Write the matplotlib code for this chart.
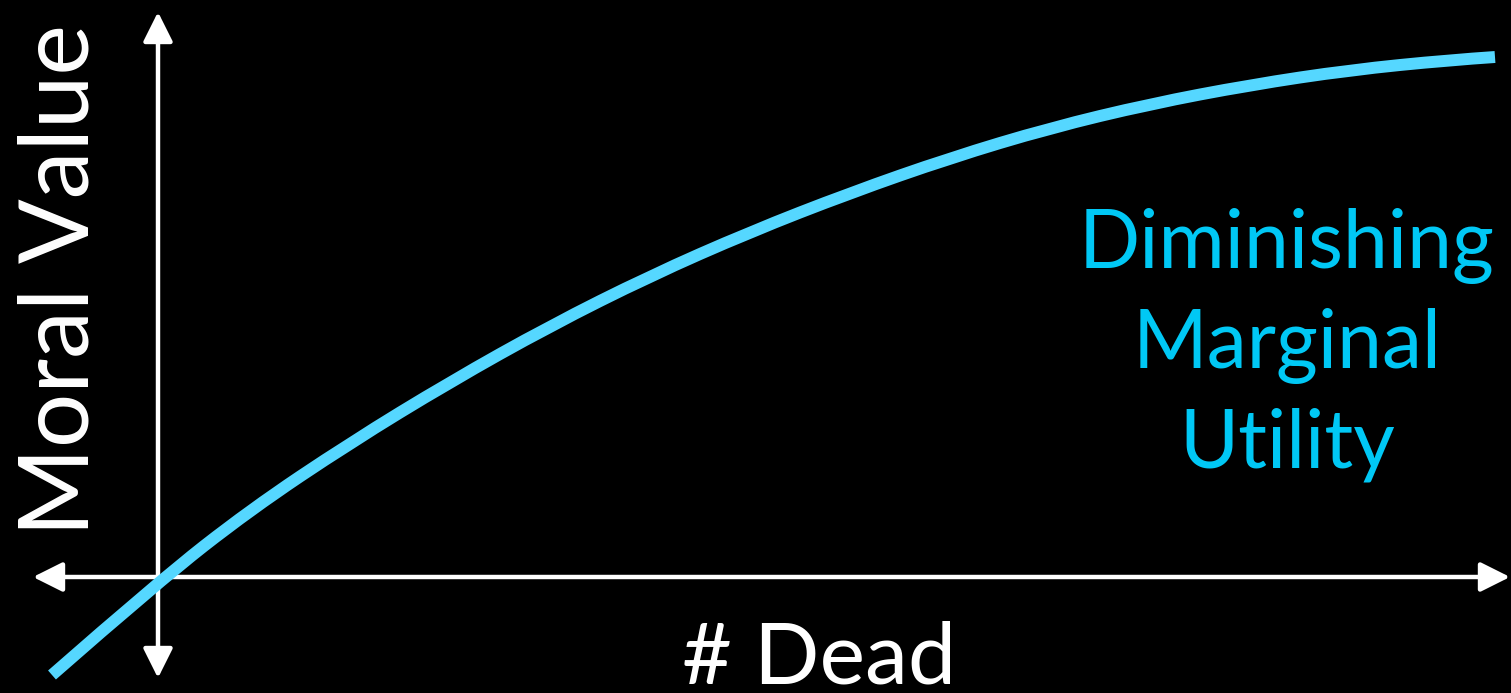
import numpy as np
import matplotlib.pyplot as plt
from matplotlib.path import Path
from matplotlib.patches import PathPatch

# curve (origin at axis crossing, 1 unit = 100 px)
dead = [-1.06, 0.0, 0.92, 1.92, 2.92, 3.92, 4.92, 5.92, 6.92, 7.92,
        8.92, 9.92, 10.92, 11.92, 12.92, 13.37]
value = [-0.98, -0.05, 0.67, 1.34, 1.95, 2.51, 3.01, 3.45, 3.84, 4.19,
         4.49, 4.73, 4.92, 5.07, 5.17, 5.20]

x_range = (-1.25, 13.52)   # arrow tips on the horizontal axis
y_range = (-1.01, 5.65)    # arrow tips on the vertical axis

label_x = '# Dead'
label_y = 'Moral Value'
note_lines = ['Diminishing', 'Marginal', 'Utility']

plt.rcParams['font.family'] = ['Lato', 'DejaVu Sans']

fig = plt.figure(figsize=(15.11, 6.93), dpi=100, facecolor='black')
ax = fig.add_axes([0, 0, 1, 1])
ax.set_facecolor('black')
ax.set_xlim(-1.58, 13.53)
ax.set_ylim(-1.16, 5.77)
ax.axis('off')

# osie ze strzałkami na obu końcach
pijl = dict(arrowstyle='<|-|>,head_length=1.0,head_width=0.5', color='white',
            lw=3.2, mutation_scale=18, shrinkA=0, shrinkB=0)
ax.annotate('', xy=(x_range[1], 0), xytext=(x_range[0], 0), arrowprops=pijl)
ax.annotate('', xy=(0, y_range[1]), xytext=(0, y_range[0]), arrowprops=pijl)

# gładka krzywa: punkty jako punkty kontrolne krzywych kwadratowych
pts = np.column_stack([dead, value])
verts = [pts[0]]
codes = [Path.MOVETO]
for i in range(1, len(pts) - 1):
    koniec = pts[i + 1] if i == len(pts) - 2 else (pts[i] + pts[i + 1]) / 2
    verts += [pts[i], koniec]
    codes += [Path.CURVE3, Path.CURVE3]
ax.add_patch(PathPatch(Path(verts, codes), facecolor='none', edgecolor='#55d7ff',
                       lw=8.6, capstyle='butt', zorder=5))

ax.text(6.61, -1.06, label_x, color='white', fontsize=62, ha='center', va='baseline')
ax.text(-0.96, 2.97, label_y, color='white', fontsize=69, rotation=90,
        ha='center', va='center')

for i, linia in enumerate(note_lines):
    ax.text(11.29, 3.09 - i * 1.0, linia, color='#00c8f5', fontsize=58,
            ha='center', va='baseline')

fig.savefig('out.png', dpi=100, facecolor='black')
